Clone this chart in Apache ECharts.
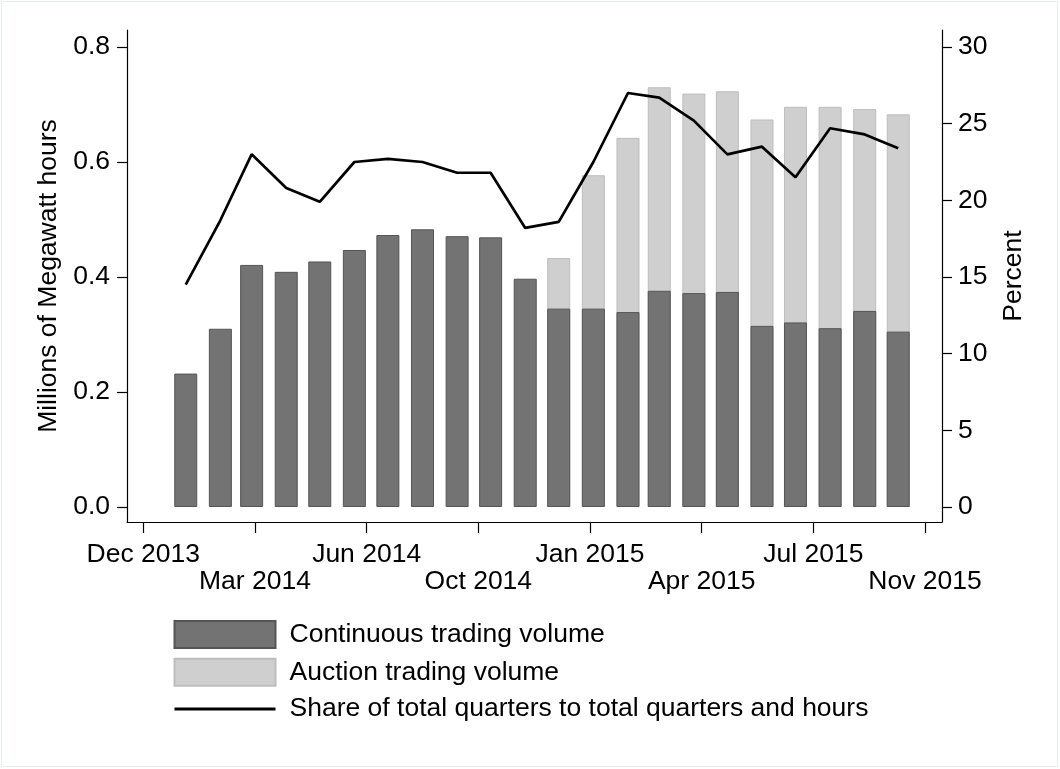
<!DOCTYPE html>
<html>
<head>
<meta charset="utf-8">
<script src="https://cdn.jsdelivr.net/npm/echarts@6/dist/echarts.min.js"></script>
<style>
  html, body { margin: 0; padding: 0; background: #fff; }
  #chart { width: 1060px; height: 769px; }
</style>
</head>
<body>
<div id="chart"></div>
<script>
// monthly observations, each dated the 15th
const months = [
  '2014-01-15', '2014-02-15', '2014-03-15', '2014-04-15', '2014-05-15', '2014-06-15',
  '2014-07-15', '2014-08-15', '2014-09-15', '2014-10-15', '2014-11-15', '2014-12-15',
  '2015-01-15', '2015-02-15', '2015-03-15', '2015-04-15', '2015-05-15', '2015-06-15',
  '2015-07-15', '2015-08-15', '2015-09-15', '2015-10-15'
]
// millions of MWh
const continuousVolume = [
  0.232, 0.310, 0.421, 0.409, 0.427, 0.447, 0.473, 0.483, 0.471, 0.469, 0.397,
  0.345, 0.345, 0.339, 0.376, 0.372, 0.374, 0.315, 0.321, 0.311, 0.341, 0.305
]
const auctionVolume = [
  null, null, null, null, null, null, null, null, null, null, null,
  0.088, 0.232, 0.303, 0.354, 0.347, 0.349, 0.359, 0.375, 0.385, 0.351, 0.378
]
// percent
const shareQuarters = [
  14.5, 18.7, 23.0, 20.8, 19.9, 22.5, 22.7, 22.5, 21.8, 21.8, 18.2,
  18.6, 22.5, 27.0, 26.7, 25.2, 23.0, 23.5, 21.5, 24.7, 24.3, 23.4
]
// x ticks every 100 days
const tickDates = ['2013-12-08', '2014-03-18', '2014-06-26', '2014-10-04', '2015-01-12', '2015-04-22', '2015-07-31', '2015-11-08']
const tickLabels = ['Dec 2013', 'Mar 2014', 'Jun 2014', 'Oct 2014', 'Jan 2015', 'Apr 2015', 'Jul 2015', 'Nov 2015']
const leftTicks = [0, 0.2, 0.4, 0.6, 0.8]
const rightTicks = [0, 5, 10, 15, 20, 25, 30]

const DAY = 86400000
const toTime = s => Date.parse(s)
const tickValues = tickDates.map(toTime)
// labels alternate between two rows
const upperTicks = tickValues.filter((v, i) => i % 2 === 0)
const lowerTicks = tickValues.filter((v, i) => i % 2 === 1)
const font = '"Liberation Sans", Arial, sans-serif'
const fs = 26.5
const xMin = tickValues[0] - 14.6 * DAY
const xMax = tickValues[tickValues.length - 1] + 15.2 * DAY
const tickLabel = v => tickLabels[tickValues.indexOf(v)] || ''

const chart = echarts.init(document.getElementById('chart'))

const option = {
  backgroundColor: '#fff',
  animation: false,
  textStyle: { fontFamily: font },
  graphic: [{
    type: 'rect',
    shape: { x: 1.5, y: 1.5, width: 1056, height: 765 },
    style: { fill: 'none', stroke: '#e4ecee', lineWidth: 1 },
    silent: true
  }],
  grid: {
    left: 127,
    right: 118,
    top: 30,
    bottom: 247,
    outerBoundsMode: 'none'
  },
  legend: {
    orient: 'vertical',
    left: 173,
    top: 620,
    padding: 0,
    itemWidth: 101,
    itemHeight: 27,
    itemGap: 8.8,
    textStyle: { fontSize: fs, lineHeight: 27, color: '#000', fontFamily: font, padding: [0, 0, 0, 9] },
    data: [
      { name: 'Continuous trading volume', icon: 'rect' },
      { name: 'Auction trading volume', icon: 'rect' },
      { name: 'Share of total quarters to total quarters and hours', lineStyle: { width: 3 } }
    ]
  },
  xAxis: [{
    type: 'value',
    position: 'bottom',
    min: xMin,
    max: xMax,
    axisLine: { show: true, onZero: false, lineStyle: { color: '#000', width: 1.2 } },
    axisTick: { show: true, length: 11, customValues: tickValues, lineStyle: { color: '#000', width: 1.2 } },
    axisLabel: {
      customValues: upperTicks,
      hideOverlap: false,
      margin: 19,
      fontSize: fs,
      lineHeight: 27,
      color: '#000',
      fontFamily: font,
      formatter: tickLabel
    },
    splitLine: { show: false }
  }, {
    type: 'value',
    position: 'bottom',
    offset: 0,
    min: xMin,
    max: xMax,
    axisLine: { show: false, onZero: false },
    axisTick: { show: false },
    axisLabel: {
      customValues: lowerTicks,
      hideOverlap: false,
      margin: 46,
      fontSize: fs,
      lineHeight: 27,
      color: '#000',
      fontFamily: font,
      formatter: tickLabel
    },
    splitLine: { show: false }
  }],
  yAxis: [{
    type: 'value',
    position: 'left',
    min: -0.0261,
    max: 0.8296,
    name: 'Millions of Megawatt hours',
    nameLocation: 'middle',
    nameRotate: 90,
    nameGap: 65,
    nameTextStyle: { fontSize: fs, color: '#000', fontFamily: font },
    axisLine: { show: true, onZero: false, lineStyle: { color: '#000', width: 1.2 } },
    axisTick: { show: true, length: 10, customValues: leftTicks, lineStyle: { color: '#000', width: 1.2 } },
    axisLabel: {
      customValues: leftTicks,
      margin: 17,
      fontSize: fs,
      color: '#000',
      fontFamily: font,
      formatter: v => v.toFixed(1)
    },
    splitLine: { show: false }
  }, {
    type: 'value',
    position: 'right',
    min: -0.978,
    max: 31.109,
    name: 'Percent',
    nameLocation: 'middle',
    nameRotate: 90,
    nameGap: 58,
    nameTextStyle: { fontSize: fs, color: '#000', fontFamily: font },
    axisLine: { show: true, onZero: false, lineStyle: { color: '#000', width: 1.2 } },
    axisTick: { show: true, length: 10, customValues: rightTicks, lineStyle: { color: '#000', width: 1.2 } },
    axisLabel: {
      customValues: rightTicks,
      margin: 16,
      fontSize: fs,
      color: '#000',
      fontFamily: font,
      formatter: v => String(v)
    },
    splitLine: { show: false }
  }],
  series: [
    {
      // total height, continuous part is drawn over it
      name: 'Auction trading volume',
      type: 'bar',
      barWidth: 23,
      barGap: '-100%',
      itemStyle: { color: '#cfcfcf', borderColor: '#bdbdbd', borderWidth: 1 },
      data: months.map((m, i) => [toTime(m), auctionVolume[i] == null ? null : continuousVolume[i] + auctionVolume[i]])
    },
    {
      name: 'Continuous trading volume',
      type: 'bar',
      barWidth: 23,
      barGap: '-100%',
      itemStyle: { color: '#737373', borderColor: '#555555', borderWidth: 1 },
      data: months.map((m, i) => [toTime(m), continuousVolume[i]])
    },
    {
      name: 'Share of total quarters to total quarters and hours',
      type: 'line',
      yAxisIndex: 1,
      symbol: 'none',
      lineStyle: { color: '#000', width: 2.7 },
      itemStyle: { color: '#000', opacity: 0 },
      data: months.map((m, i) => [toTime(m), shareQuarters[i]])
    }
  ]
}

chart.setOption(option)
</script>
</body>
</html>
